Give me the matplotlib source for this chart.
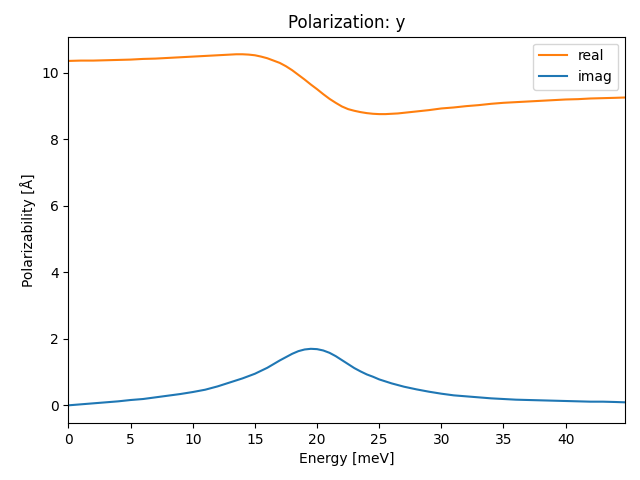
import matplotlib
matplotlib.use("Agg")
from matplotlib import pyplot as plt

# energies in meV (denser around the resonance)
energy = [0, 1, 2, 3, 4, 5, 6, 7, 8, 9, 10, 11, 12,
          12.5, 13, 13.5, 14, 14.5, 15, 15.5, 16, 16.5, 17, 17.5, 18, 18.5,
          19, 19.5, 20, 20.5, 21, 21.5, 22, 22.5, 23, 23.5, 24, 24.5, 25,
          25.5, 26, 26.5, 27, 27.5, 28,
          29, 30, 31, 32, 33, 34, 35, 36, 37, 38, 39, 40, 41, 42, 43, 44, 44.8]

real = [10.36, 10.37, 10.37, 10.38, 10.39, 10.40, 10.42, 10.43, 10.45, 10.47,
        10.49, 10.51, 10.53,
        10.54, 10.55, 10.56, 10.56, 10.55, 10.53, 10.49, 10.44, 10.37, 10.30,
        10.20, 10.08, 9.94, 9.80, 9.65, 9.51, 9.36, 9.22, 9.10, 8.99, 8.91,
        8.86, 8.82, 8.79, 8.77, 8.76, 8.76, 8.77, 8.78, 8.80, 8.82, 8.84,
        8.88, 8.93, 8.96, 9.00, 9.03, 9.07, 9.10, 9.12, 9.14, 9.16, 9.18,
        9.20, 9.21, 9.23, 9.24, 9.25, 9.26]

imag = [0.00, 0.03, 0.06, 0.09, 0.12, 0.16, 0.19, 0.24, 0.29, 0.34,
        0.40, 0.47, 0.57,
        0.63, 0.69, 0.75, 0.81, 0.88, 0.95, 1.04, 1.13, 1.24, 1.35, 1.45,
        1.55, 1.63, 1.68, 1.70, 1.69, 1.65, 1.58, 1.48, 1.36, 1.24, 1.12,
        1.02, 0.93, 0.86, 0.78, 0.72, 0.66, 0.61, 0.56, 0.52, 0.48,
        0.41, 0.35, 0.30, 0.27, 0.24, 0.21, 0.19, 0.17, 0.16, 0.15, 0.14,
        0.13, 0.12, 0.11, 0.11, 0.10, 0.09]

fig, ax = plt.subplots(figsize=(6.4, 4.8), dpi=100)
ax.plot(energy, real, color="C1", label="real")
ax.plot(energy, imag, color="C0", label="imag")
ax.set_xlim(energy[0], energy[-1])
ax.set_xlabel("Energy [meV]")
ax.set_ylabel("Polarizability [Å]")
ax.set_title("Polarization: y")
ax.legend()
fig.subplots_adjust(left=0.107, right=0.977, top=0.9235, bottom=0.119)
fig.savefig("out.png")
